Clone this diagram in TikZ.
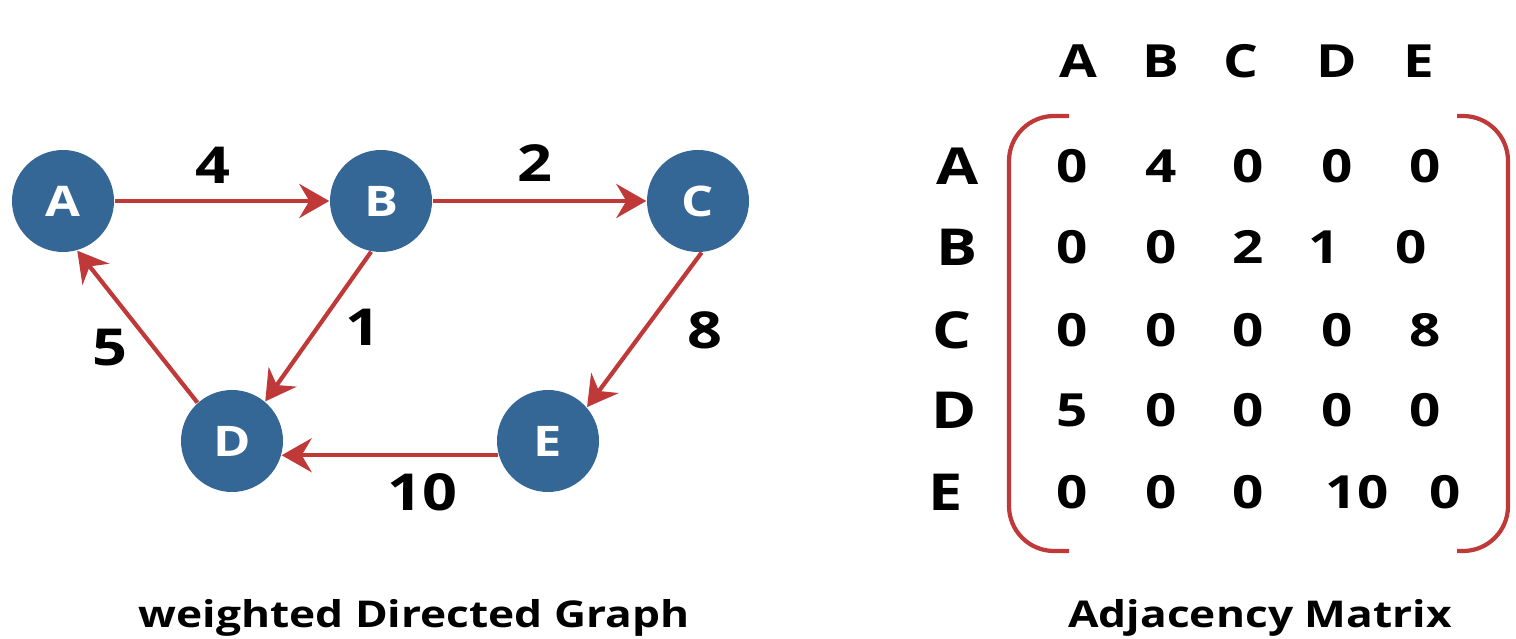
\documentclass[tikz,border=0pt]{standalone}
\usepackage{fontspec}
\setmainfont{Open Sans}[FakeStretch=1.2]
\usepackage{xcolor}
\usetikzlibrary{arrows.meta}
\definecolor{nodeblue}{RGB}{52,103,150}
\definecolor{edgered}{RGB}{192,57,57}

\begin{document}
\begin{tikzpicture}[
  vertex/.style={circle, fill=nodeblue, minimum size=1.02cm, inner sep=0pt,
    text=white, font=\fontsize{12}{14}\selectfont\bfseries},
  edge/.style={-{Stealth[length=0.3cm, width=0.34cm, inset=0.1cm]},
    line width=1.2pt, draw=edgered},
  weight/.style={font=\fontsize{14.5}{16}\selectfont\bfseries, inner sep=0pt},
  colhead/.style={font=\fontsize{13}{15}\selectfont\bfseries, inner sep=0pt},
  rowhead/.style={font=\fontsize{14.5}{16}\selectfont\bfseries, inner sep=0pt,
    anchor=west},
  entry/.style={font=\fontsize{13}{15}\selectfont\bfseries, inner sep=0pt},
  bracket/.style={line width=1.2pt, draw=edgered, rounded corners=0.45cm},
  caption/.style={font=\fontsize{10.5}{12}\selectfont\bfseries, anchor=base},
]
\useasboundingbox (0,0) rectangle (15.16,6.38);

% Graph vertices
\node[vertex] (A) at (0.63, 4.37) {A};
\node[vertex] (B) at (3.81, 4.37) {B};
\node[vertex] (C) at (6.98, 4.37) {C};
\node[vertex] (D) at (2.32, 1.97) {D};
\node[vertex] (E) at (5.48, 1.97) {E};

% Weighted edges
\draw[edge] (A) -- (B);
\draw[edge] (B) -- (C);
\draw[edge] (C.-86) -- (E.41);
\draw[edge] (B.-101) -- (D.50);
\draw[edge] (D.132) -- (A.-74);
\draw[edge] (E.196) -- (D.-16);

% Edge weights
\node[weight] (wAB) at (2.13, 4.73) {4};
\node[weight] (wBC) at (5.35, 4.75) {2};
\node[weight] (wBD) at (3.63, 3.11) {1};
\node[weight] (wCE) at (7.05, 3.08) {8};
\node[weight] (wDA) at (1.10, 2.90) {5};
\node[weight] (wED) at (4.22, 1.46) {10};

% Matrix column headers
\def\yhead{5.77}
\node[colhead] (hA) at (10.78, \yhead) {A};
\node[colhead] (hB) at (11.61, \yhead) {B};
\node[colhead] (hC) at (12.41, \yhead) {C};
\node[colhead] (hD) at (13.37, \yhead) {D};
\node[colhead] (hE) at (14.19, \yhead) {E};

% Matrix row headers
\foreach \r/\y/\lx in {A/4.72/9.36, B/3.91/9.36, C/3.08/9.32,
                       D/2.28/9.31, E/1.46/9.28}
  \node[rowhead] (r\r) at (\lx, \y) {\r};

% Matrix entries (value/x per row)
\foreach \v/\x [count=\c] in {0/10.72, 4/11.61, 0/12.48, 0/13.37, 0/14.25}
  \node[entry] (mA\c) at (\x, 4.72) {\v};
\foreach \v/\x [count=\c] in {0/10.72, 0/11.61, 2/12.48, 1/13.24, 0/14.11}
  \node[entry] (mB\c) at (\x, 3.91) {\v};
\foreach \v/\x [count=\c] in {0/10.72, 0/11.61, 0/12.48, 0/13.37, 8/14.25}
  \node[entry] (mC\c) at (\x, 3.08) {\v};
\foreach \v/\x [count=\c] in {5/10.72, 0/11.61, 0/12.48, 0/13.37, 0/14.25}
  \node[entry] (mD\c) at (\x, 2.28) {\v};
\foreach \v/\x [count=\c] in {0/10.72, 0/11.61, 0/12.48, 10/13.57, 0/14.45}
  \node[entry] (mE\c) at (\x, 1.46) {\v};

% Brackets
\draw[bracket] (10.69, 5.22) -- (10.09, 5.22) -- (10.09, 0.87) -- (10.69, 0.87);
\draw[bracket] (14.57, 5.22) -- (15.08, 5.22) -- (15.08, 0.87) -- (14.57, 0.87);

% Captions
\node[caption] (capG) at (4.14, 0.11) {weighted Directed Graph};
\node[caption] (capM) at (12.60, 0.11) {Adjacency Matrix};

\end{tikzpicture}
\end{document}
